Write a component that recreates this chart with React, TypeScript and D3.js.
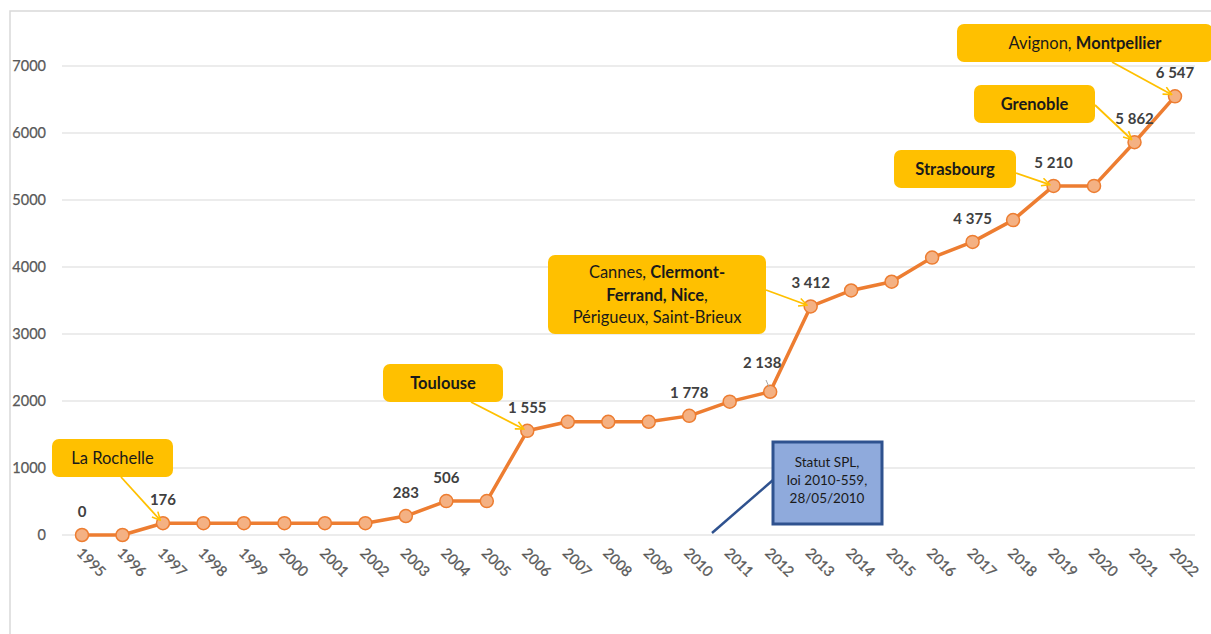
import React from 'react';
import * as d3 from 'd3';

// data
const years = [1995, 1996, 1997, 1998, 1999, 2000, 2001, 2002, 2003, 2004, 2005, 2006, 2007, 2008,
  2009, 2010, 2011, 2012, 2013, 2014, 2015, 2016, 2017, 2018, 2019, 2020, 2021, 2022];
const values = [0, 0, 176, 176, 176, 176, 176, 176, 283, 506, 506, 1555, 1690, 1690,
  1690, 1778, 1990, 2138, 3412, 3650, 3780, 4140, 4375, 4700, 5210, 5210, 5862, 6547];
const labelledYears = [1995, 1997, 2003, 2004, 2006, 2010, 2012, 2013, 2017, 2019, 2021, 2022];
const yTicks = [0, 1000, 2000, 3000, 4000, 5000, 6000, 7000];

const callouts = [
  { year: 1997, box: [52, 439, 121, 38], from: [121, 477], lines: [[['La Rochelle', false]]] },
  { year: 2006, box: [383, 364, 120, 38], from: [471, 402], lines: [[['Toulouse', true]]] },
  {
    year: 2013, box: [548, 255, 218, 79], from: [766, 290], lines: [
      [['Cannes, ', false], ['Clermont-', true]],
      [['Ferrand, Nice', true], [',', false]],
      [['Périgueux, Saint-Brieux', false]],
    ]
  },
  { year: 2019, box: [894, 150, 122, 38], from: [1016, 173], lines: [[['Strasbourg', true]]] },
  { year: 2021, box: [974, 85, 121, 38], from: [1095, 105], lines: [[['Grenoble', true]]] },
  { year: 2022, box: [957, 24, 256, 38], from: [1112, 62], lines: [[['Avignon, ', false], ['Montpellier', true]]] },
];

const fmt = (v: number) => d3.format(',')(v).replace(/,/g, '\u202F');
const FONT = 'Lato, "Open Sans", sans-serif';

export default function App() {
  const W = 1211, H = 634;
  const x = d3.scaleLinear().domain([1995, 2022]).range([82, 1175]);
  const y = d3.scaleLinear().domain([0, 7000]).range([535, 66]);
  const line = d3.line<number>().x((_, i) => x(years[i])).y(d => y(d));

  return (
    <svg width={W} height={H} style={{ position: 'absolute', left: 0, top: 0, background: '#fff' }} fontFamily={FONT}>
      <defs>
        <marker id="arr" viewBox="0 0 10 10" refX="9" refY="5" markerWidth="10" markerHeight="10"
          markerUnits="userSpaceOnUse" orient="auto">
          <path d="M1,1 L9,5 L1,9" fill="none" stroke="#FFC000" strokeWidth={1.6} />
        </marker>
      </defs>
      <rect x={10} y={11} width={1215} height={640} fill="none" stroke="#D9D9D9" strokeWidth={1.5} />

      {/* grid + y axis */}
      {yTicks.map(t => (
        <g key={t}>
          <line x1={62} x2={1195} y1={y(t)} y2={y(t)} stroke="#D9D9D9" strokeWidth={1} />
          <text x={46} y={y(t) + 5} textAnchor="end" fontSize={14.5} fill="#595959"
            stroke="#595959" strokeWidth={0.25}>{t}</text>
        </g>
      ))}

      {/* x axis labels */}
      {years.map(yr => (
        <text key={yr} transform={`translate(${x(yr) - 6},${554}) rotate(45)`} fontSize={14.5} fill="#595959"
          stroke="#595959" strokeWidth={0.3}>{yr}</text>
      ))}

      {/* Statut SPL */}
      <line x1={712} y1={533} x2={773} y2={480} stroke="#2F528F" strokeWidth={2.5} />
      <rect x={773} y={442} width={109} height={82} fill="#8FAADC" stroke="#2F528F" strokeWidth={3} />
      {['Statut SPL,', 'loi 2010-559,', '28/05/2010'].map((t, i) => (
        <text key={i} x={827} y={467 + i * 18} textAnchor="middle" fontSize={13.5} fill="#1a1a1a">{t}</text>
      ))}

      {/* series */}
      <path d={line(values) || ''} fill="none" stroke="#ED7D31" strokeWidth={3.5} strokeLinejoin="round" />
      {values.map((v, i) => (
        <circle key={i} cx={x(years[i])} cy={y(v)} r={6.5} fill="#F4B183" stroke="#ED7D31" strokeWidth={1.5} />
      ))}

      {/* value labels */}
      {labelledYears.map(yr => {
        const v = values[years.indexOf(yr)];
        const shift = yr === 2012 ? [-8, -6] : [0, 0];
        return (
          <g key={yr}>
            {yr === 2012 && <line x1={766} y1={380} x2={769} y2={387} stroke="#A6A6A6" strokeWidth={1} />}
            <text x={x(yr) + shift[0]} y={y(v) - 18 + shift[1]} textAnchor="middle" fontSize={15}
              fontWeight="bold" fill="#404040">{fmt(v)}</text>
          </g>
        );
      })}

      {/* callouts */}
      {callouts.map((c, k) => {
        const [bx, by, bw, bh] = c.box;
        const tx = x(c.year), ty = y(values[years.indexOf(c.year)]);
        const dx = tx - c.from[0], dy = ty - c.from[1];
        const len = Math.hypot(dx, dy);
        const ex = tx - dx / len * 4, ey = ty - dy / len * 4;
        const n = c.lines.length;
        const lh = 22.5;
        const y0 = by + bh / 2 - ((n - 1) * lh) / 2 + 6;
        return (
          <g key={k}>
            <rect x={bx} y={by} width={bw} height={bh} rx={7} fill="#FFC000" />
            <line x1={c.from[0]} y1={c.from[1]} x2={ex} y2={ey} stroke="#FFC000" strokeWidth={1.8} markerEnd="url(#arr)" />
            {c.lines.map((ln, i) => (
              <text key={i} x={bx + bw / 2} y={y0 + i * lh} textAnchor="middle" fontSize={16.5} fill="#1a1a1a">
                {ln.map((seg, j) => (
                  <tspan key={j} fontWeight={seg[1] ? 'bold' : 'normal'}>{seg[0] as string}</tspan>
                ))}
              </text>
            ))}
          </g>
        );
      })}
    </svg>
  );
}
